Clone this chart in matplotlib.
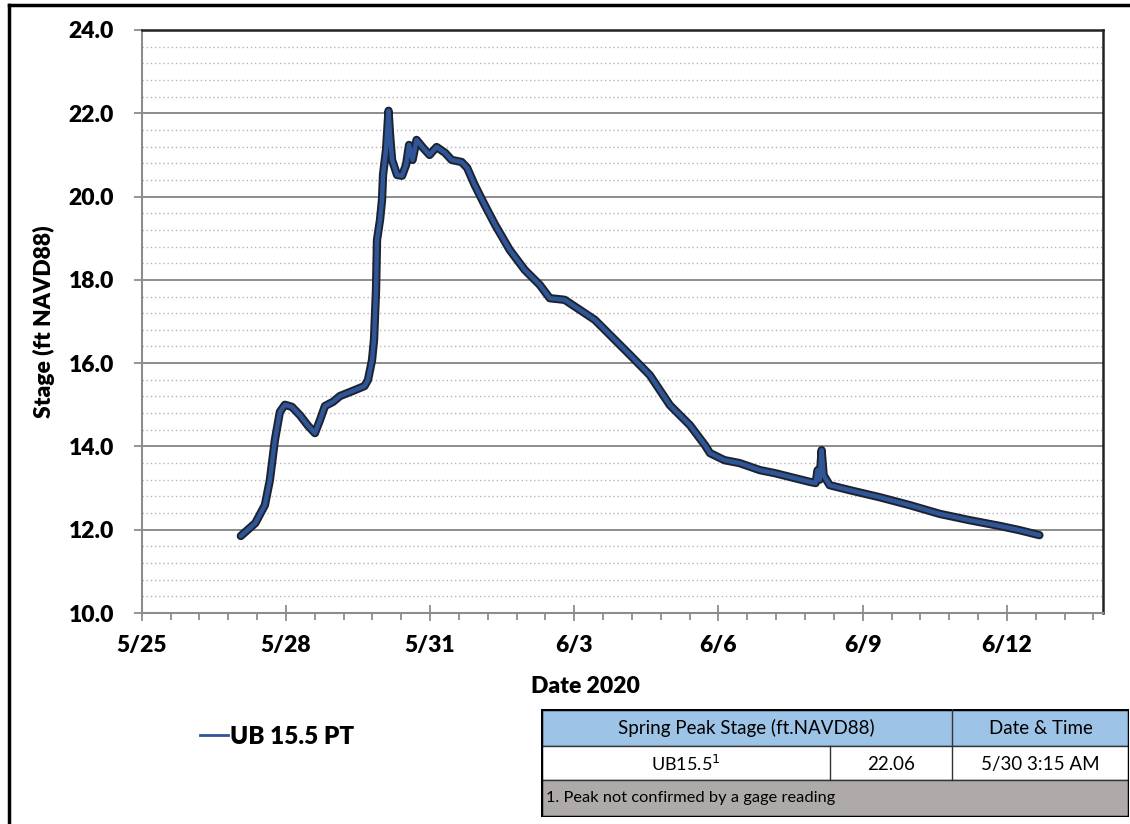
import matplotlib
matplotlib.use('Agg')
import matplotlib.pyplot as plt
from matplotlib.lines import Line2D
from matplotlib.patches import Rectangle
from matplotlib.ticker import MultipleLocator, FormatStrFormatter
import pandas as pd

plt.rcParams['font.family'] = ['Lato', 'DejaVu Sans']

# stage record (ft NAVD88)
times = [
    '2020-05-27 01:30', '2020-05-27 08:45', '2020-05-27 13:30', '2020-05-27 16:00',
    '2020-05-27 18:30', '2020-05-27 21:00', '2020-05-27 23:30', '2020-05-28 03:00',
    '2020-05-28 07:00', '2020-05-28 11:00', '2020-05-28 14:30', '2020-05-28 17:00',
    '2020-05-28 19:30', '2020-05-28 23:30', '2020-05-29 03:00', '2020-05-29 10:15',
    '2020-05-29 15:15', '2020-05-29 17:00', '2020-05-29 19:00', '2020-05-29 20:00',
    '2020-05-29 21:00', '2020-05-29 21:30', '2020-05-29 23:00', '2020-05-30 00:00',
    '2020-05-30 00:30', '2020-05-30 02:00', '2020-05-30 03:15', '2020-05-30 04:00',
    '2020-05-30 05:00', '2020-05-30 07:30', '2020-05-30 10:00', '2020-05-30 12:00',
    '2020-05-30 13:30', '2020-05-30 15:15', '2020-05-30 17:15', '2020-05-30 20:30',
    '2020-05-30 23:45', '2020-05-31 03:15', '2020-05-31 07:30', '2020-05-31 10:45',
    '2020-05-31 15:45', '2020-05-31 18:30', '2020-05-31 22:15', '2020-06-01 03:15',
    '2020-06-01 08:30', '2020-06-01 15:45', '2020-06-01 23:15', '2020-06-02 06:45',
    '2020-06-02 11:45', '2020-06-02 19:15', '2020-06-03 02:45', '2020-06-03 10:15',
    '2020-06-03 17:45', '2020-06-04 03:45', '2020-06-04 13:45', '2020-06-04 23:45',
    '2020-06-05 09:45', '2020-06-05 17:15', '2020-06-05 19:45', '2020-06-06 03:00',
    '2020-06-06 10:30', '2020-06-06 20:45', '2020-06-07 04:00', '2020-06-07 11:30',
    '2020-06-07 21:30', '2020-06-08 00:30', '2020-06-08 01:30', '2020-06-08 02:30',
    '2020-06-08 03:30', '2020-06-08 04:30', '2020-06-08 07:30', '2020-06-08 17:30',
    '2020-06-09 08:30', '2020-06-09 23:30', '2020-06-10 14:30', '2020-06-11 05:15',
    '2020-06-11 20:30', '2020-06-12 06:15', '2020-06-12 16:15',
]
stage = [
    11.85, 12.16, 12.59, 13.19,
    14.15, 14.83, 15.00, 14.95,
    14.75, 14.50, 14.32, 14.63,
    14.97, 15.07, 15.21, 15.35,
    15.45, 15.60, 16.07, 16.56,
    17.75, 18.96, 19.44, 19.92,
    20.52, 21.12, 22.06, 21.48,
    20.88, 20.52, 20.50, 20.76,
    21.24, 20.88, 21.36, 21.17,
    21.00, 21.19, 21.05, 20.88,
    20.83, 20.69, 20.28, 19.80,
    19.32, 18.72, 18.24, 17.88,
    17.56, 17.52, 17.28, 17.04,
    16.68, 16.20, 15.71, 14.99,
    14.51, 14.03, 13.84, 13.67,
    13.60, 13.43, 13.36, 13.27,
    13.15, 13.12, 13.43, 13.20,
    13.91, 13.31, 13.07, 12.95,
    12.78, 12.59, 12.38, 12.23,
    12.09, 11.99, 11.87,
]
series_name = 'UB 15.5 PT'

table_header = ['Spring Peak Stage (ft.NAVD88)', 'Date & Time']
table_row = ['UB15.5$^{1}$', '22.06', '5/30 3:15 AM']
table_note = '1. Peak not confirmed by a gage reading'

t = pd.to_datetime(times)

fig = plt.figure(figsize=(11.3, 8.24), dpi=100)
W, H = 1130.0, 824.0
ax = fig.add_axes([141.7 / W, 1 - 613 / H, (1103 - 141.7) / W, (613 - 30) / H])

ax.plot(t, stage, color='#1c2330', lw=6.0, solid_joinstyle='round', solid_capstyle='round', zorder=3)
ax.plot(t, stage, color='#2f5597', lw=3.2, solid_joinstyle='round', solid_capstyle='round', zorder=4)

ax.set_ylim(10, 24)
ax.set_xlim(pd.Timestamp('2020-05-25'), pd.Timestamp('2020-06-14'))
ax.yaxis.set_major_locator(MultipleLocator(2))
ax.yaxis.set_minor_locator(MultipleLocator(0.4))
ax.yaxis.set_major_formatter(FormatStrFormatter('%.1f'))

start = pd.Timestamp('2020-05-25')
major = [start + pd.Timedelta(days=3 * i) for i in range(7)]
minor = [start + pd.Timedelta(days=0.6 * i) for i in range(34)]
ax.set_xticks(major)
ax.set_xticks(minor, minor=True)
ax.set_xticklabels([f'{d.month}/{d.day}' for d in major])

ax.grid(which='major', axis='y', color='#8c8c8c', lw=1.4)
ax.grid(which='minor', axis='y', color='#b5b5b5', lw=1.0, ls=(0, (1, 2)))
ax.grid(which='both', axis='x', visible=False)
ax.set_axisbelow(True)

for s in ['left', 'bottom']:
    ax.spines[s].set_color('#8c8c8c')
    ax.spines[s].set_linewidth(1.5)
for s in ['top', 'right']:
    ax.spines[s].set_color('#222222')
    ax.spines[s].set_linewidth(1.8)

ax.tick_params(axis='y', which='major', direction='out', length=6, width=1.3, color='#8c8c8c',
               labelsize=16.5, pad=14)
ax.tick_params(axis='y', which='minor', length=0)
ax.tick_params(axis='x', which='major', direction='inout', length=12, width=1.3, color='#8c8c8c',
               labelsize=16.5, pad=10)
ax.tick_params(axis='x', which='minor', direction='out', length=5, width=1.3, color='#8c8c8c')
for lab in ax.get_xticklabels() + ax.get_yticklabels():
    lab.set_fontweight('heavy')

ax.set_xlabel('Date 2020', fontsize=16.5, fontweight='heavy')
ax.xaxis.set_label_coords(0.462, -0.108)
ax.set_ylabel('Stage (ft NAVD88)', fontsize=16.5, fontweight='heavy', labelpad=10)

# legend outside the plot, bottom left
leg = fig.legend([Line2D([0], [0], color='#2f5597', lw=2)], [series_name],
                 loc='center left', bbox_to_anchor=(200 / W, 1 - 737 / H), frameon=False,
                 borderpad=0, borderaxespad=0, handlelength=1.15, handletextpad=0.1,
                 prop={'size': 17.5, 'weight': 'heavy'})

# peak stage table
tax = fig.add_axes([541 / W, 1 - 817 / H, (1129 - 541) / W, (817 - 709) / H])
tax.set_xlim(541, 1129)
tax.set_ylim(817, 709)
tax.axis('off')
rows = [(709, 746, '#9dc3e6'), (746, 780, 'white'), (780, 817, '#aeaaaa')]
for y0, y1, c in rows:
    tax.add_patch(Rectangle((541, y0), 588, y1 - y0, facecolor=c, edgecolor='#333333', lw=1))
tax.plot([952, 952], [709, 780], color='#333333', lw=1)
tax.plot([830, 830], [746, 780], color='#333333', lw=1)
tax.add_patch(Rectangle((541, 709), 588, 108, facecolor='none', edgecolor='black', lw=2.5))
tax.text((541 + 952) / 2, 728, table_header[0], ha='center', va='center', fontsize=13.5)
tax.text((952 + 1129) / 2, 728, table_header[1], ha='center', va='center', fontsize=13.5)
tax.text((541 + 830) / 2, 764, table_row[0], ha='center', va='center', fontsize=13)
tax.text((830 + 952) / 2, 764, table_row[1], ha='center', va='center', fontsize=13.5)
tax.text((952 + 1129) / 2, 764, table_row[2], ha='center', va='center', fontsize=13.5)
tax.text(546, 798, table_note, ha='left', va='center', fontsize=11.8)

# outer frame (left and top edges)
fig.add_artist(Line2D([8.5 / W, 8.5 / W], [0, 1 - 5 / H], color='black', lw=2.5))
fig.add_artist(Line2D([8.5 / W, 1], [1 - 5 / H, 1 - 5 / H], color='black', lw=2.5))

fig.savefig('out.png', dpi=100)
